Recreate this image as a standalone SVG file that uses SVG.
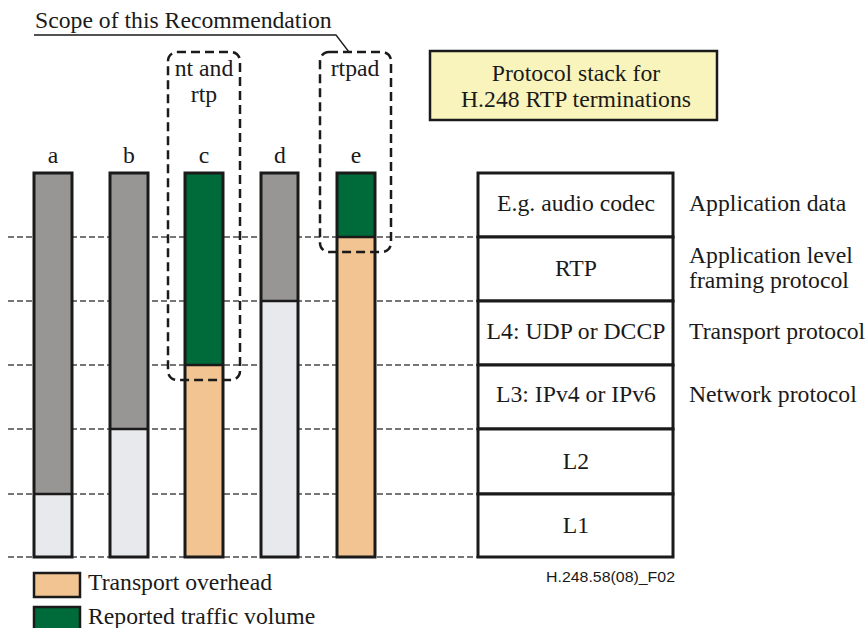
<svg xmlns="http://www.w3.org/2000/svg" width="865" height="628" viewBox="0 0 865 628" font-family="'Liberation Serif', 'DejaVu Serif', serif">
<style>
  .t { font-family: 'Liberation Serif', 'DejaVu Serif', serif; fill: #1a1a1a; font-size: 23.7px; }
  .mid { text-anchor: middle; }
  .grid { stroke: #4a4a4a; stroke-width: 1.3; stroke-dasharray: 6 3; fill: none; }
  .scope { stroke: #1a1a1a; stroke-width: 2.5; stroke-dasharray: 9 5; fill: none; }
  .bar { stroke: #1a1a1a; stroke-width: 3; fill: none; }
  .div { stroke: #1a1a1a; stroke-width: 2.5; }
  .gray { fill: #979694; }
  .light { fill: #e8e9ed; }
  .green { fill: #006b3a; }
  .orange { fill: #f1c491; }
  .cell { fill: #ffffff; stroke: #1a1a1a; stroke-width: 3; }
</style>
<rect width="865" height="628" fill="#ffffff"/>

<!-- layer boundary guides -->
<g id="connectors">
  <line class="grid" x1="8" y1="237" x2="478" y2="237"/>
  <line class="grid" x1="8" y1="301" x2="478" y2="301"/>
  <line class="grid" x1="8" y1="365" x2="478" y2="365"/>
  <line class="grid" x1="8" y1="429" x2="478" y2="429"/>
  <line class="grid" x1="8" y1="494" x2="478" y2="494"/>
  <line class="grid" x1="8" y1="557" x2="478" y2="557"/>
  <!-- scope callout -->
  <polyline points="34,35 336,35 349,52" fill="none" stroke="#1a1a1a" stroke-width="1.3"/>
</g>

<g id="scope-label">
  <text class="t" x="35" y="28">Scope of this Recommendation</text>
</g>

<g id="title">
  <rect x="430" y="51" width="287" height="69" fill="#f9f4bb" stroke="#1a1a1a" stroke-width="2.5"/>
  <text class="t mid" x="576" y="81">Protocol stack for</text>
  <text class="t mid" x="576" y="107">H.248 RTP terminations</text>
</g>

<!-- stacked bars -->
<g id="bar-a">
  <text class="t mid" x="53" y="163">a</text>
  <rect class="gray" x="34" y="173" width="38" height="321"/>
  <rect class="light" x="34" y="494" width="38" height="63"/>
  <line class="div" x1="34" y1="494" x2="72" y2="494"/>
  <rect class="bar" x="34" y="173" width="38" height="384"/>
</g>
<g id="bar-b">
  <text class="t mid" x="129" y="163">b</text>
  <rect class="gray" x="110" y="173" width="38" height="256"/>
  <rect class="light" x="110" y="429" width="38" height="128"/>
  <line class="div" x1="110" y1="429" x2="148" y2="429"/>
  <rect class="bar" x="110" y="173" width="38" height="384"/>
</g>
<g id="bar-c">
  <text class="t mid" x="204" y="163">c</text>
  <rect class="green" x="185" y="173" width="38" height="192"/>
  <rect class="orange" x="185" y="365" width="38" height="192"/>
  <line class="div" x1="185" y1="365" x2="223" y2="365"/>
  <rect class="bar" x="185" y="173" width="38" height="384"/>
</g>
<g id="bar-d">
  <text class="t mid" x="280" y="163">d</text>
  <rect class="gray" x="261" y="173" width="37" height="128"/>
  <rect class="light" x="261" y="301" width="37" height="256"/>
  <line class="div" x1="261" y1="301" x2="298" y2="301"/>
  <rect class="bar" x="261" y="173" width="37" height="384"/>
</g>
<g id="bar-e">
  <text class="t mid" x="356" y="163">e</text>
  <rect class="green" x="337" y="173" width="38" height="64"/>
  <rect class="orange" x="337" y="237" width="38" height="320"/>
  <line class="div" x1="337" y1="237" x2="375" y2="237"/>
  <rect class="bar" x="337" y="173" width="38" height="384"/>
</g>

<!-- scope boxes -->
<g id="scope-nt-rtp">
  <rect class="scope" x="168" y="52" width="72" height="328" rx="9"/>
  <text class="t mid" x="204" y="76">nt and</text>
  <text class="t mid" x="204" y="102">rtp</text>
</g>
<g id="scope-rtpad">
  <rect class="scope" x="320" y="52" width="71" height="200" rx="9"/>
  <text class="t mid" x="355" y="76">rtpad</text>
</g>

<!-- protocol stack -->
<g id="stack">
  <rect class="cell" x="478" y="173" width="195" height="64"/>
  <rect class="cell" x="478" y="237" width="195" height="64"/>
  <rect class="cell" x="478" y="301" width="195" height="64"/>
  <rect class="cell" x="478" y="365" width="195" height="64"/>
  <rect class="cell" x="478" y="429" width="195" height="65"/>
  <rect class="cell" x="478" y="494" width="195" height="63"/>
  <text class="t mid" x="576" y="211">E.g. audio codec</text>
  <text class="t mid" x="576" y="276">RTP</text>
  <text class="t mid" x="576" y="339">L4: UDP or DCCP</text>
  <text class="t mid" x="576" y="402">L3: IPv4 or IPv6</text>
  <text class="t mid" x="576" y="469">L2</text>
  <text class="t mid" x="576" y="533">L1</text>
</g>

<g id="stack-roles">
  <text class="t" x="689" y="211">Application data</text>
  <text class="t" x="689" y="263">Application level</text>
  <text class="t" x="689" y="288">framing protocol</text>
  <text class="t" x="689" y="339">Transport protocol</text>
  <text class="t" x="689" y="402">Network protocol</text>
</g>

<g id="figure-id">
  <text x="546" y="582" font-family="'Liberation Sans', Arial, sans-serif" font-size="15" fill="#1a1a1a" textLength="129" lengthAdjust="spacingAndGlyphs">H.248.58(08)_F02</text>
</g>

<!-- legend -->
<g id="legend">
  <rect class="orange" x="34" y="573" width="46" height="24" stroke="#1a1a1a" stroke-width="2.5"/>
  <text class="t" x="88" y="590">Transport overhead</text>
  <rect class="green" x="34" y="607" width="46" height="24" stroke="#1a1a1a" stroke-width="2.5"/>
  <text class="t" x="88" y="624">Reported traffic volume</text>
</g>
</svg>
